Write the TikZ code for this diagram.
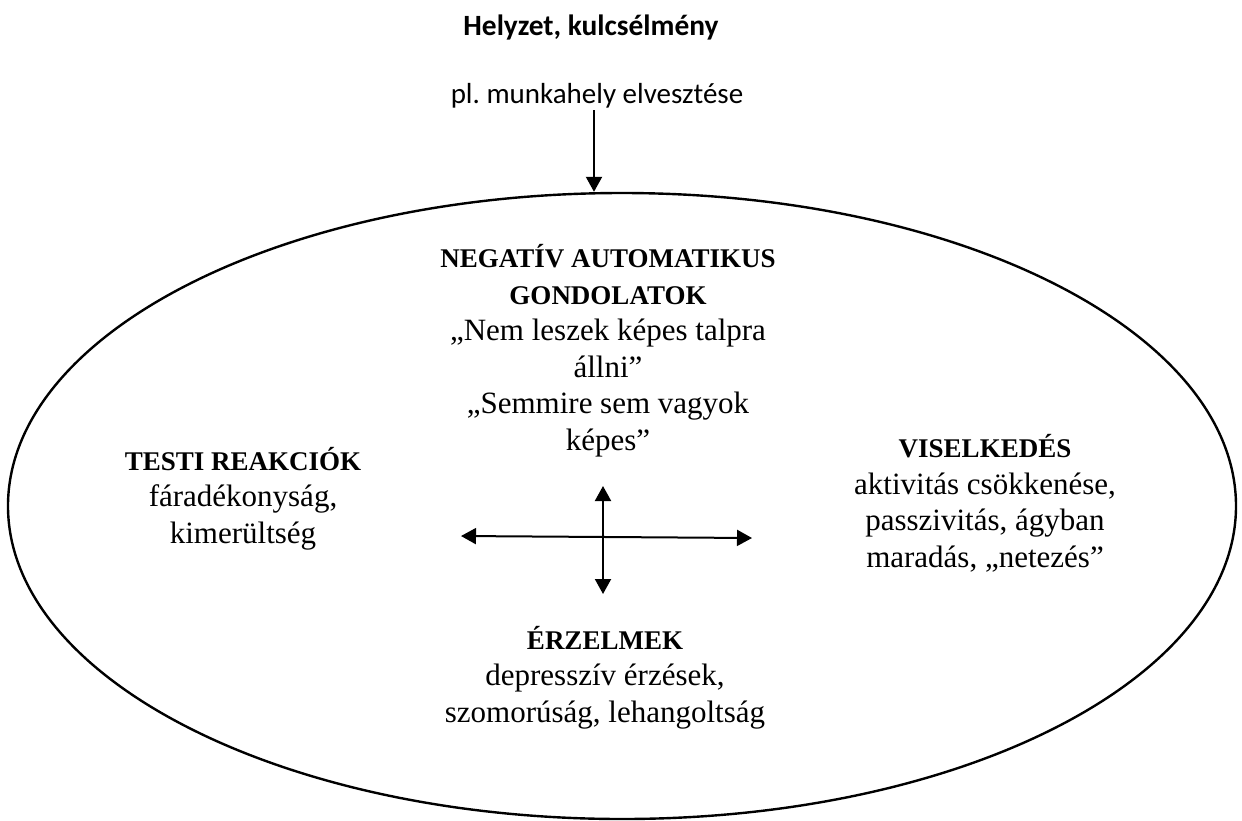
\documentclass[tikz,border=0pt]{standalone}
\usepackage{fontspec}
\setmainfont{Liberation Serif}
\newfontfamily\carlito{Carlito}
\usetikzlibrary{arrows.meta,shapes.geometric}
\frenchspacing
\newcommand\hd[1]{{\fontsize{27}{36.5}\selectfont\bfseries #1}}
\begin{document}
\begin{tikzpicture}[x=1pt,y=-1pt,
  blk/.style={align=center,inner sep=0pt,anchor=base,font=\fontsize{31}{36.5}\selectfont},
  arr/.style={line width=2pt,{Triangle[length=15pt,width=16pt]}-{Triangle[length=15pt,width=16pt]}},
  onearr/.style={line width=2pt,-{Triangle[length=15pt,width=16pt]}}]
\useasboundingbox (0,0) rectangle (1242,820);
\node[draw,ellipse,line width=2.4pt,minimum width=1228pt,minimum height=626pt,inner sep=0pt] (e) at (622,506) {};
\node[anchor=base,inner sep=0pt,font=\carlito\bfseries\fontsize{29.4}{34}\selectfont] (t) at (591,35) {Helyzet, kulcsélmény};
\node[anchor=base,inner sep=0pt,font=\carlito\fontsize{29}{34}\selectfont] (s) at (597,103) {pl.\ munkahely elvesztése};
\coordinate (a1) at (594,110);
\draw[onearr] (a1) -- (a1 |- e.north);
\node[blk] (gond) at (608,450) {\hd{NEGATÍV AUTOMATIKUS}\\\hd{GONDOLATOK}\\„Nem leszek képes talpra\\állni”\\„Semmire sem vagyok\\képes”};
\node[blk] (test) at (243,543) {\hd{TESTI REAKCIÓK}\\fáradékonyság,\\kimerültség};
\node[blk] (visel) at (985,567) {\hd{VISELKEDÉS}\\aktivitás csökkenése,\\passzivitás, ágyban\\maradás, „netezés”};
\node[blk] (erz) at (605,722) {\hd{ÉRZELMEK}\\depresszív érzések,\\szomorúság, lehangoltság};
\coordinate (hl) at (461,536);
\coordinate (hr) at (752,538);
\coordinate (vt) at (603,486);
\coordinate (vb) at (603,594);
\draw[arr] (hl) -- (hr);
\draw[arr] (vt) -- (vb);
\end{tikzpicture}
\end{document}
